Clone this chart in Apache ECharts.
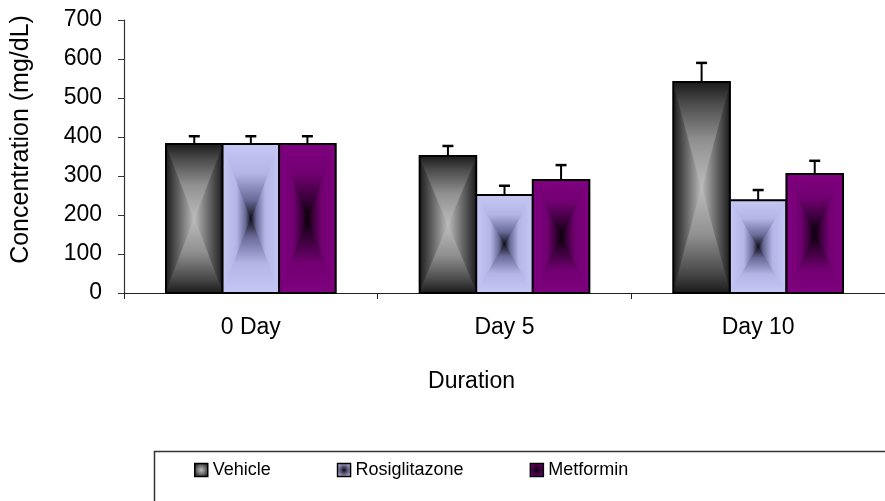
<!DOCTYPE html>
<html>
<head>
<meta charset="utf-8">
<script src="https://cdn.jsdelivr.net/npm/echarts@6/dist/echarts.min.js"></script>
<style>
html,body{margin:0;padding:0;background:#fff;}
#chart{width:885px;height:501px;}
</style>
</head>
<body>
<div id="chart"></div>
<script>
// ---- data ----
const categories = ['0 Day', 'Day 5', 'Day 10'];
const seriesNames = ['Vehicle', 'Rosiglitazone', 'Metformin'];
const vehicle = [382, 351, 541];
const vehicleErr = [20, 26, 49];
const rosiglitazone = [382, 251, 238];
const rosiglitazoneErr = [20, 24, 26];
const metformin = [382, 290, 305];
const metforminErr = [20, 38, 34];
const yTicks = [0, 100, 200, 300, 400, 500, 600, 700];

// ---- styling ----
const FONT = 'Liberation Sans, Arial, sans-serif';
const BAR_RATIO = 0.223; // bar width as a fraction of the category band
const palettes = [
  {edge: '#1a1a1a', center: '#bdbdbd', fill: '#606060',
   h: [[0, '#1a1a1a'], [0.5, '#6a6a6a'], [1, '#bdbdbd']],
   v: [[0, '#1a1a1a'], [0.2, '#4a4a4a'], [0.55, '#909090'], [1, '#bdbdbd']]},
  {edge: '#c8c8f6', center: '#0a0a14', fill: '#b0b0e2',
   h: [[0, '#c8c8f6'], [0.5, '#b4b4e6'], [0.8, '#6a6a98'], [1, '#0a0a14']],
   v: [[0, '#c8c8f6'], [0.4, '#b4b4e6'], [0.75, '#6a6a98'], [1, '#0a0a14']]},
  {edge: '#800080', center: '#050005', fill: '#740074',
   h: [[0, '#800080'], [0.5, '#720072'], [0.82, '#360036'], [1, '#050005']],
   v: [[0, '#800080'], [0.4, '#720072'], [0.75, '#360036'], [1, '#050005']]}
];

function grad(x, y, x2, y2, stops) {
  return {type: 'linear', x: x, y: y, x2: x2, y2: y2,
    colorStops: stops.map(function (s) { return {offset: s[0], color: s[1]}; })};
}
function radial(p) {
  return {type: 'radial', x: 0.5, y: 0.5, r: 0.6, colorStops: [
    {offset: 0, color: p.center}, {offset: 1, color: p.edge}
  ]};
}
function poly(points, g) {
  return {type: 'polygon', shape: {points: points}, style: {fill: g, stroke: g, lineWidth: 0.8}};
}

function makeRender(idx) {
  const p = palettes[idx];
  return function (params, api) {
    const cat = api.value(0), val = api.value(1), err = api.value(2);
    const catW = api.size([1, 0])[0];
    const barW = catW * BAR_RATIO;
    const base = api.coord([cat, 0]);
    const top = api.coord([cat, val]);
    const tip = api.coord([cat, val + err]);
    const x0 = base[0] + (idx - 1.5) * barW;
    const x1 = x0 + barW;
    const y0 = top[1], y1 = base[1];
    const cx = (x0 + x1) / 2, cy = (y0 + y1) / 2;
    const C = [cx, cy];
    const capW = 5.5;
    return {
      type: 'group',
      children: [
        {type: 'rect', shape: {x: x0, y: y0, width: barW, height: y1 - y0}, style: {fill: p.fill}},
        poly([[x0, y0], [x0, y1], C], grad(0, 0, 1, 0, p.h)),
        poly([[x1, y0], [x1, y1], C], grad(1, 0, 0, 0, p.h)),
        poly([[x0, y0], [x1, y0], C], grad(0, 0, 0, 1, p.v)),
        poly([[x0, y1], [x1, y1], C], grad(0, 1, 0, 0, p.v)),
        {type: 'rect', shape: {x: x0, y: y0, width: barW, height: y1 - y0}, style: {fill: null, stroke: '#000', lineWidth: 2}},
        {type: 'line', shape: {x1: cx, y1: y0, x2: cx, y2: tip[1]}, style: {stroke: '#000', lineWidth: 2}},
        {type: 'line', shape: {x1: cx - capW, y1: tip[1], x2: cx + capW, y2: tip[1]}, style: {stroke: '#000', lineWidth: 2.5}}
      ]
    };
  };
}

const valueSets = [vehicle, rosiglitazone, metformin];
const errSets = [vehicleErr, rosiglitazoneErr, metforminErr];

const series = seriesNames.map(function (name, i) {
  return {
    name: name,
    type: 'custom',
    renderItem: makeRender(i),
    encode: {x: 0, y: 1},
    clip: false,
    itemStyle: {color: radial(palettes[i]), borderColor: '#000', borderWidth: 1.5},
    data: categories.map(function (c, k) { return [k, valueSets[i][k], errSets[i][k]]; })
  };
});

const chart = echarts.init(document.getElementById('chart'));
chart.setOption({
  backgroundColor: '#fff',
  animation: false,
  textStyle: {fontFamily: FONT},
  grid: {left: 124, top: 20, width: 768, height: 273},
  graphic: [{
    type: 'rect', left: 152, top: 449,
    shape: {width: 760, height: 100},
    style: {fill: null, stroke: '#333', lineWidth: 1.5}
  }],
  legend: {
    left: 194, top: 461, padding: 0,
    itemWidth: 13, itemHeight: 13, itemGap: 66,
    icon: 'rect',
    textStyle: {fontSize: 18, color: '#000', fontFamily: FONT},
    data: seriesNames.map(function (n, i) {
      return {name: n, itemStyle: {color: radial(palettes[i]), borderColor: '#000', borderWidth: 1.5}};
    })
  },
  xAxis: {
    type: 'category',
    data: categories,
    name: 'Duration',
    nameLocation: 'middle',
    nameGap: 77,
    nameTextStyle: {fontSize: 23, color: '#000', fontFamily: FONT, padding: [0, 66, 0, 0]},
    axisLine: {lineStyle: {color: '#222', width: 1.2}},
    axisTick: {show: true, length: 6, lineStyle: {color: '#222'}},
    axisLabel: {fontSize: 23, color: '#000', margin: 23, fontFamily: FONT},
    splitLine: {show: false}
  },
  yAxis: {
    type: 'value',
    min: yTicks[0], max: yTicks[yTicks.length - 1], interval: yTicks[1] - yTicks[0],
    name: 'Concentration (mg/dL)',
    nameLocation: 'middle',
    nameRotate: 90,
    nameGap: 90,
    nameTextStyle: {fontSize: 25, color: '#000', fontFamily: FONT, padding: [0, 0, 0, 34]},
    axisLine: {show: true, lineStyle: {color: '#333', width: 1.2}},
    axisTick: {show: true, length: 6, lineStyle: {color: '#333'}},
    axisLabel: {fontSize: 23, color: '#000', margin: 22, fontFamily: FONT},
    splitLine: {show: false}
  },
  series: series
});
</script>
</body>
</html>
